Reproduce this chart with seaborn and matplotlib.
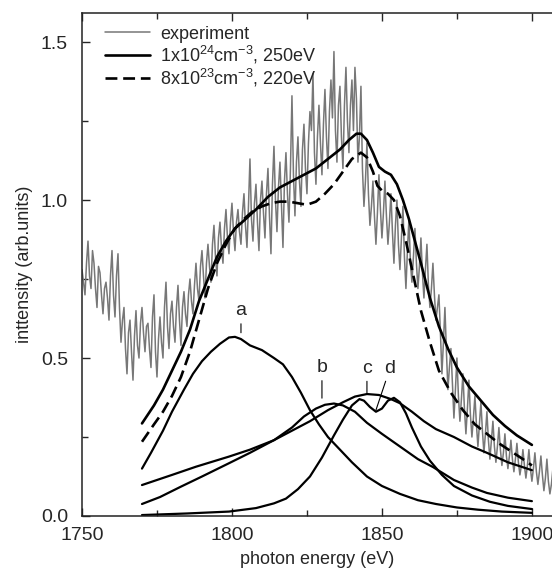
import numpy as np
import pandas as pd
import seaborn as sns
import matplotlib.pyplot as plt

# experiment, values read at whole eV (1750..1907)
exp_whole = [
    0.78, 0.70, 0.87, 0.72, 0.80, 0.66, 0.77, 0.64, 0.74, 0.62,
    0.84, 0.63, 0.83, 0.55, 0.66, 0.45, 0.62, 0.43, 0.65, 0.50,
    0.66, 0.52, 0.61, 0.47, 0.70, 0.44, 0.63, 0.50, 0.74, 0.53,
    0.68, 0.55, 0.73, 0.54, 0.71, 0.60, 0.75, 0.64, 0.80, 0.68,
    0.84, 0.69, 0.86, 0.74, 0.92, 0.76, 0.93, 0.80, 0.97, 0.83,
    0.99, 0.84, 0.97, 0.86, 1.02, 0.85, 1.13, 0.87, 1.05, 0.84,
    1.06, 0.88, 1.10, 0.83, 1.17, 0.90, 1.12, 0.85, 1.15, 0.93,
    1.33, 0.95, 1.20, 0.98, 1.24, 1.02, 1.28, 1.40, 1.05, 1.30,
    1.08, 1.35, 1.10, 1.38, 1.47, 1.12, 1.36, 1.10, 1.42, 1.15,
    1.38, 1.42, 1.12, 1.36, 0.98, 1.18, 0.92, 1.06, 0.86, 1.08,
    0.88, 1.06, 0.86, 1.02, 0.80, 1.00, 0.78, 0.98, 0.72, 0.94,
    0.74, 0.91, 0.72, 0.88, 0.69, 0.86, 0.66, 0.80, 0.62, 0.70,
    0.45, 0.66, 0.40, 0.53, 0.31, 0.50, 0.30, 0.45, 0.26, 0.43,
    0.25, 0.38, 0.22, 0.36, 0.20, 0.33, 0.18, 0.30, 0.17, 0.28,
    0.16, 0.26, 0.15, 0.24, 0.14, 0.23, 0.13, 0.21, 0.12, 0.21,
    0.11, 0.20, 0.10, 0.19, 0.08, 0.18, 0.07, 0.15,
]
# experiment, values read at half eV (1750.5..1906.5)
exp_half = [
    0.74, 0.80, 0.76, 0.84, 0.72, 0.79, 0.70, 0.72, 0.69, 0.76,
    0.70, 0.76, 0.66, 0.62, 0.53, 0.58, 0.52, 0.57, 0.54, 0.61,
    0.58, 0.60, 0.53, 0.63, 0.52, 0.56, 0.55, 0.66, 0.60, 0.64,
    0.60, 0.66, 0.62, 0.66, 0.64, 0.70, 0.68, 0.73, 0.72, 0.79,
    0.76, 0.80, 0.79, 0.86, 0.82, 0.88, 0.85, 0.91, 0.88, 0.93,
    0.90, 0.93, 0.90, 0.96, 0.92, 0.98, 0.94, 0.99, 0.93, 1.00,
    0.96, 1.02, 0.95, 1.05, 1.00, 1.04, 0.98, 1.06, 1.02, 1.10,
    1.08, 1.12, 1.06, 1.16, 1.10, 1.18, 1.22, 1.15, 1.20, 1.18,
    1.24, 1.20, 1.28, 1.26, 1.22, 1.30, 1.20, 1.30, 1.25, 1.30,
    1.22, 1.32, 1.20, 1.10, 1.06, 1.02, 0.98, 0.95, 0.96, 0.97,
    0.96, 0.95, 0.93, 0.90, 0.92, 0.86, 0.88, 0.82, 0.84, 0.80,
    0.82, 0.80, 0.79, 0.77, 0.78, 0.73, 0.72, 0.70, 0.66, 0.58,
    0.55, 0.52, 0.47, 0.42, 0.40, 0.38, 0.37, 0.34, 0.34, 0.32,
    0.31, 0.29, 0.29, 0.27, 0.26, 0.24, 0.24, 0.22, 0.22, 0.21,
    0.20, 0.19, 0.19, 0.18, 0.18, 0.17, 0.16, 0.16, 0.16, 0.15,
    0.15, 0.14, 0.14, 0.13, 0.12, 0.11, 0.10,
]

# fit 1x10^24 cm^-3, 250 eV (solid)
fit1_x = [1770, 1774, 1777, 1780, 1783, 1786, 1789, 1792, 1795, 1798, 1801, 1804,
          1808, 1812, 1816, 1820, 1824, 1828, 1832, 1836, 1839, 1841.5, 1843, 1845,
          1847, 1849, 1851, 1853, 1855, 1857, 1859, 1861, 1863, 1866, 1869, 1872,
          1875, 1879, 1883, 1887, 1891, 1895, 1900]
fit1_y = [0.293, 0.35, 0.40, 0.46, 0.52, 0.59, 0.68, 0.75, 0.82, 0.87, 0.91, 0.935,
          0.97, 1.01, 1.04, 1.06, 1.08, 1.10, 1.13, 1.16, 1.19, 1.21, 1.21, 1.19,
          1.15, 1.105, 1.09, 1.08, 1.05, 1.00, 0.94, 0.87, 0.80, 0.69, 0.60, 0.53,
          0.47, 0.41, 0.365, 0.32, 0.285, 0.255, 0.225]

# fit 8x10^23 cm^-3, 220 eV (dashed)
fit2_x = [1770, 1774, 1777, 1780, 1783, 1786, 1789, 1792, 1795, 1798, 1801, 1804,
          1807, 1810, 1813, 1816, 1819, 1822, 1825, 1828, 1831, 1834, 1837, 1840,
          1843, 1845, 1847, 1848.5, 1850, 1852, 1854, 1856, 1858, 1860.5, 1863, 1866,
          1869, 1873, 1877, 1881, 1885, 1889, 1893, 1897, 1900]
fit2_y = [0.235, 0.29, 0.33, 0.38, 0.44, 0.52, 0.62, 0.72, 0.80, 0.86, 0.91, 0.94,
          0.965, 0.98, 0.99, 0.995, 0.995, 0.99, 0.985, 0.995, 1.02, 1.05, 1.09, 1.13,
          1.15, 1.135, 1.09, 1.045, 1.03, 1.02, 1.00, 0.95, 0.87, 0.76, 0.65, 0.55,
          0.46, 0.39, 0.335, 0.29, 0.26, 0.23, 0.205, 0.18, 0.16]

# components
a_x = [1770, 1773, 1777, 1780, 1784, 1787, 1790, 1793, 1796, 1799, 1801, 1803, 1806,
       1810, 1814, 1817, 1820, 1823, 1826, 1829, 1832, 1836, 1840, 1845, 1850, 1856,
       1862, 1868, 1875, 1882, 1890, 1900]
a_y = [0.15, 0.20, 0.27, 0.33, 0.40, 0.45, 0.49, 0.52, 0.545, 0.565, 0.567, 0.56, 0.54,
       0.525, 0.50, 0.48, 0.44, 0.39, 0.335, 0.29, 0.25, 0.21, 0.17, 0.125, 0.095, 0.07,
       0.05, 0.038, 0.027, 0.02, 0.014, 0.01]

b_x = [1770, 1776, 1783, 1790, 1799, 1806, 1814, 1820, 1824, 1828, 1831, 1834, 1837,
       1841, 1845, 1850, 1856, 1862, 1867, 1874, 1880, 1885, 1892, 1900]
b_y = [0.038, 0.06, 0.093, 0.125, 0.167, 0.20, 0.24, 0.28, 0.315, 0.34, 0.352, 0.356, 0.35,
       0.33, 0.295, 0.26, 0.22, 0.18, 0.155, 0.114, 0.09, 0.073, 0.058, 0.047]

c_x = [1770, 1780, 1788, 1799, 1806, 1814, 1820, 1826, 1832, 1837, 1841, 1845, 1849,
       1853, 1856, 1860, 1864, 1868, 1874, 1880, 1885, 1892, 1900]
c_y = [0.098, 0.13, 0.156, 0.188, 0.21, 0.24, 0.27, 0.30, 0.335, 0.36, 0.378, 0.386, 0.383,
       0.37, 0.357, 0.33, 0.30, 0.275, 0.25, 0.22, 0.20, 0.17, 0.145]

d_x = [1770, 1785, 1799, 1808, 1814, 1818, 1822, 1826, 1830, 1834, 1837, 1840, 1842.5,
       1844, 1846, 1848, 1850, 1852, 1854, 1856, 1858, 1860, 1863, 1866, 1870, 1874,
       1880, 1886, 1892, 1900]
d_y = [0.003, 0.008, 0.014, 0.025, 0.04, 0.055, 0.085, 0.125, 0.185, 0.255, 0.305, 0.35, 0.37,
       0.365, 0.345, 0.33, 0.34, 0.365, 0.374, 0.36, 0.325, 0.28, 0.22, 0.175, 0.13, 0.095,
       0.065, 0.045, 0.032, 0.022]

# label text position, line end
comp_labels = ["a", "b", "c", "d"]
label_xy = [(1803, 0.65), (1830, 0.47), (1845, 0.468), (1852.7, 0.468)]
label_tip = [(1803, 0.58), (1830, 0.373), (1845, 0.39), (1848, 0.335)]

# interleave whole and half eV readings
exp_df = pd.DataFrame({
    "energy": np.concatenate([np.arange(1750, 1908), np.arange(1750.5, 1907, 1.0)]),
    "intensity": exp_whole + exp_half,
}).sort_values("energy")

sns.set_style("ticks")
plt.rcParams['font.family'] = ['Liberation Sans', 'DejaVu Sans']
plt.rcParams['mathtext.fontset'] = 'custom'
plt.rcParams['mathtext.rm'] = 'Liberation Sans'
plt.rcParams['mathtext.it'] = 'Liberation Sans'

fig = plt.figure(figsize=(5.52, 5.71), dpi=100)
ax = fig.add_axes([82 / 552, 1 - 516 / 571, 1 - 82 / 552, (516 - 13) / 571])

sns.lineplot(data=exp_df, x="energy", y="intensity", ax=ax, color="#777777",
             lw=1.1, label="experiment")
sns.lineplot(x=fit1_x, y=fit1_y, ax=ax, color="black", lw=1.9,
             label="1x10$^{24}$cm$^{-3}$, 250eV")
sns.lineplot(x=fit2_x, y=fit2_y, ax=ax, color="black", lw=1.9,
             linestyle=(0, (4.5, 2.2)), label="8x10$^{23}$cm$^{-3}$, 220eV")

for cx, cy in [(a_x, a_y), (b_x, b_y), (c_x, c_y), (d_x, d_y)]:
    sns.lineplot(x=cx, y=cy, ax=ax, color="black", lw=1.6)

for lab, txt, tip in zip(comp_labels, label_xy, label_tip):
    ax.annotate(lab, xy=tip, xytext=txt, ha="center", va="center", fontsize=14,
                arrowprops=dict(arrowstyle="-", color="black", lw=0.8,
                                shrinkA=1, shrinkB=0))

ax.set_xlim(1750, 1906.7)
ax.set_ylim(0, 1.592)
ax.set_xticks([1750, 1800, 1850, 1900])
ax.set_xticks([1775, 1825, 1875], minor=True)
ax.set_yticks([0.0, 0.5, 1.0, 1.5])
ax.set_yticks([0.25, 0.75, 1.25], minor=True)
ax.set_yticklabels(["0.0", "0.5", "1.0", "1.5"])
ax.tick_params(which="both", direction="in", top=True, right=False,
               labelsize=14, width=1.0)
ax.tick_params(which="major", length=6)
ax.tick_params(which="minor", length=4)
ax.tick_params(axis="x", pad=8)
ax.tick_params(axis="y", pad=10)
sns.despine(ax=ax, top=False, right=True)
for sp in ax.spines.values():
    sp.set_linewidth(1.1)
    sp.set_color("#222222")

ax.set_xlabel("photon energy (eV)", fontsize=13, labelpad=5)
ax.set_ylabel("inttensity (arb.units)", fontsize=13, labelpad=6)

handles = ax.get_lines()[:3]
ax.legend(handles=handles, labels=[h.get_label() for h in handles],
          loc="upper left", bbox_to_anchor=((105 - 82) / 470, 0.975),
          frameon=False, fontsize=13, handlelength=2.5, borderaxespad=0,
          borderpad=0, labelspacing=0.05, handletextpad=0.55)

fig.savefig("out.png", dpi=100)
